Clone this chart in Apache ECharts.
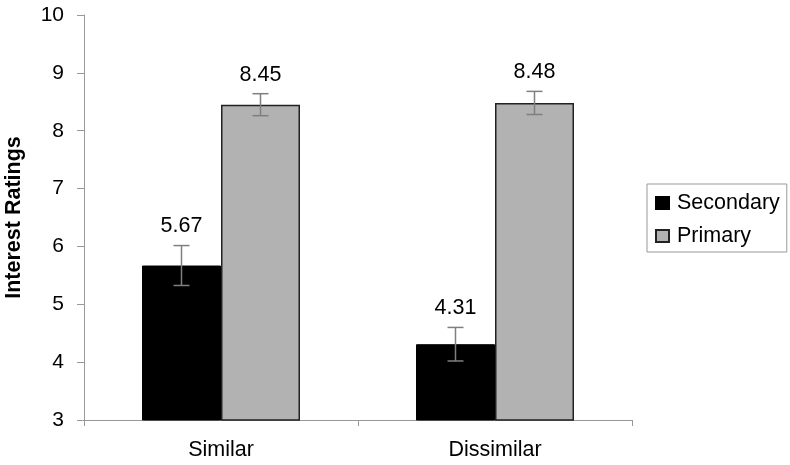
<!DOCTYPE html>
<html>
<head>
<meta charset="utf-8">
<script src="https://cdn.jsdelivr.net/npm/echarts@6/dist/echarts.min.js"></script>
<style>html,body{margin:0;padding:0;background:#fff}#c{width:790px;height:465px}</style>
</head>
<body>
<div id="c"></div>
<script>
var categories = ['Similar', 'Dissimilar'];
var seriesNames = ['Secondary', 'Primary'];
var secondaryValues = [5.67, 4.31];
var primaryValues = [8.45, 8.48];
var secondaryErrors = [0.345, 0.29];
var primaryErrors = [0.19, 0.2];
var yTicks = [3, 4, 5, 6, 7, 8, 9, 10];

var FONT = 'Liberation Sans, Arial, sans-serif';
var FS = 21.5;
var BAR_W = 79;

function errSeries(name, values, errs, offset) {
  var data = values.map(function (v, i) { return [i, v, v - errs[i], v + errs[i]]; });
  return {
    type: 'custom',
    name: name + ' err',
    silent: true,
    z: 5,
    data: data,
    renderItem: function (params, api) {
      var x = api.coord([api.value(0), 0])[0] + offset;
      var lo = api.coord([api.value(0), api.value(2)])[1];
      var hi = api.coord([api.value(0), api.value(3)])[1];
      var cap = 8;
      var st = { stroke: '#7f7f7f', lineWidth: 1.5 };
      return {
        type: 'group',
        children: [
          { type: 'line', shape: { x1: x, y1: lo, x2: x, y2: hi }, style: st },
          { type: 'line', shape: { x1: x - cap, y1: lo, x2: x + cap, y2: lo }, style: st },
          { type: 'line', shape: { x1: x - cap, y1: hi, x2: x + cap, y2: hi }, style: st },
          { type: 'text', x: x, y: hi - 8, style: { text: api.value(1).toFixed(2), fill: '#000', font: FS + 'px ' + FONT, align: 'center', verticalAlign: 'bottom' } }
        ]
      };
    }
  };
}

var chart = echarts.init(document.getElementById('c'), null, { renderer: 'canvas' });
chart.setOption({
  animation: false,
  backgroundColor: '#fff',
  textStyle: { fontFamily: FONT },
  grid: { left: 84, right: 158, top: 15, bottom: 45, containLabel: false, outerBoundsMode: 'none' },
  legend: {
    data: seriesNames,
    orient: 'vertical',
    left: 647,
    top: 184,
    padding: [8, 7, 5, 8],
    itemGap: 11,
    itemWidth: 13,
    itemHeight: 12,
    icon: 'rect',
    borderColor: '#999',
    borderWidth: 1,
    textStyle: { fontSize: FS, lineHeight: 22, color: '#000', fontFamily: FONT, padding: [0, 0, 0, 3] }
  },
  xAxis: {
    type: 'category',
    data: categories,
    axisLine: { lineStyle: { color: '#999' } },
    axisTick: { show: true, alignWithLabel: false, length: 6, lineStyle: { color: '#999' } },
    axisLabel: { fontSize: FS, color: '#000', margin: 19, fontFamily: FONT }
  },
  yAxis: {
    type: 'value',
    min: yTicks[0],
    max: yTicks[yTicks.length - 1],
    interval: 1,
    axisLine: { show: true, lineStyle: { color: '#999' } },
    axisTick: { show: true, length: 7, lineStyle: { color: '#999' } },
    splitLine: { show: false },
    axisLabel: { fontSize: 21, color: '#000', margin: 20, fontFamily: FONT },
    name: 'Interest Ratings',
    nameLocation: 'middle',
    nameGap: 59,
    nameTextStyle: { fontSize: FS, fontWeight: 'bold', color: '#000', fontFamily: FONT }
  },
  series: [
    {
      type: 'bar', name: seriesNames[0], data: secondaryValues,
      barWidth: BAR_W, barGap: '0%',
      itemStyle: { color: '#000', borderColor: '#000', borderWidth: 1 }
    },
    {
      type: 'bar', name: seriesNames[1], data: primaryValues,
      barWidth: BAR_W, barGap: '0%',
      itemStyle: { color: '#b2b2b2', borderColor: '#222', borderWidth: 1.5 }
    },
    errSeries(seriesNames[0], secondaryValues, secondaryErrors, -BAR_W / 2),
    errSeries(seriesNames[1], primaryValues, primaryErrors, BAR_W / 2)
  ]
});
</script>
</body>
</html>
